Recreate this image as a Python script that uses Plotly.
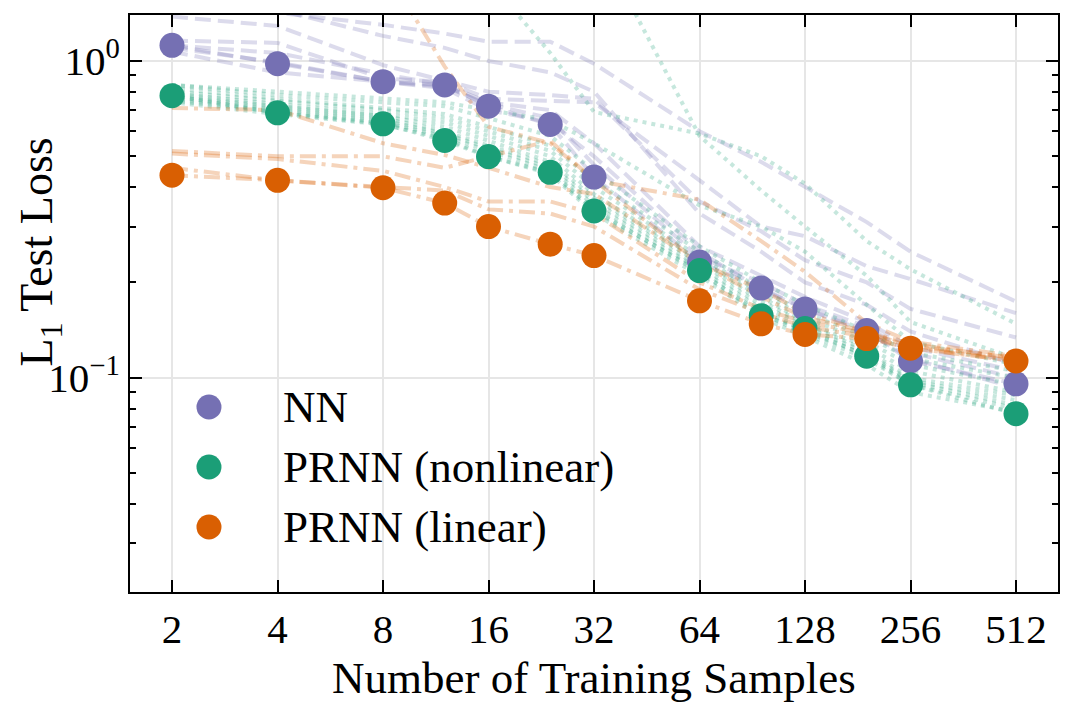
import plotly.graph_objects as go

# ---------------- data ----------------
n_samples = [2, 4, 8, 12, 16, 24, 32, 64, 96, 128, 192, 256, 512]
x_tick_vals = [2, 4, 8, 16, 32, 64, 128, 256, 512]
x_tick_text = ["2", "4", "8", "16", "32", "64", "128", "256", "512"]
y_tick_vals = [0.1, 1.0]
y_tick_text = ["10<sup>−1</sup>", "10<sup>0</sup>"]
y_minor_vals = [0.03, 0.04, 0.05, 0.06, 0.07, 0.08, 0.09,
                0.2, 0.3, 0.4, 0.5, 0.6, 0.7, 0.8, 0.9]

# highlighted (marker) results
nn_best = [1.12, 0.98, 0.86, 0.84, 0.72, 0.63, 0.43, 0.232, 0.192, 0.165, 0.141, 0.113, 0.0957]
prnn_nl_best = [0.777, 0.686, 0.633, 0.561, 0.499, 0.445, 0.336, 0.218, 0.157, 0.143, 0.117, 0.095, 0.077]
prnn_lin_best = [0.436, 0.420, 0.398, 0.356, 0.300, 0.264, 0.243, 0.175, 0.148, 0.137, 0.133, 0.124, 0.113]

# individual runs (faint lines)
nn_runs = [
    [1.50, 1.42, 1.30, 1.22, 1.15, 1.15, 0.98, 0.60, 0.48, 0.40, 0.31, 0.25, 0.174],
    [1.38, 1.29, 0.97, 0.87, 0.80, 0.78, 0.76, 0.36, 0.29, 0.235, 0.20, 0.165, 0.134],
    [1.16, 1.14, 0.88, 0.86, 0.76, 0.75, 0.74, 0.42, 0.30, 0.28, 0.225, 0.205, 0.160],
    [1.12, 1.06, 0.91, 0.84, 0.74, 0.70, 0.55, 0.26, 0.21, 0.18, 0.150, 0.125, 0.105],
    [1.10, 0.99, 0.86, 0.83, 0.73, 0.66, 0.47, 0.24, 0.20, 0.17, 0.145, 0.120, 0.100],
    [1.07, 0.92, 0.86, 0.82, 0.70, 0.64, 0.50, 0.25, 0.19, 0.165, 0.140, 0.115, 0.093],
    [1.60, 1.45, 1.20, 1.10, 1.00, 0.92, 0.80, 0.33, 0.25, 0.20, 0.170, 0.140, 0.110],
    nn_best,
]
prnn_nl_runs = [
    [0.84, 0.78, 0.74, 0.72, 0.66, 0.58, 0.45, 0.26, 0.20, 0.17, 0.140, 0.120, 0.105],
    [0.82, 0.76, 0.71, 0.68, 0.62, 0.54, 0.42, 0.25, 0.19, 0.16, 0.135, 0.115, 0.100],
    [0.80, 0.75, 0.70, 0.66, 0.60, 0.52, 0.40, 0.24, 0.185, 0.155, 0.130, 0.110, 0.095],
    [0.79, 0.73, 0.68, 0.64, 0.58, 0.50, 0.38, 0.235, 0.18, 0.150, 0.125, 0.105, 0.090],
    [0.78, 0.72, 0.67, 0.62, 0.56, 0.48, 0.37, 0.23, 0.175, 0.148, 0.122, 0.100, 0.088],
    [0.77, 0.71, 0.66, 0.60, 0.54, 0.47, 0.36, 0.225, 0.17, 0.145, 0.120, 0.098, 0.085],
    [0.76, 0.70, 0.65, 0.59, 0.53, 0.46, 0.35, 0.22, 0.165, 0.140, 0.118, 0.097, 0.082],
    [0.75, 0.69, 0.64, 0.58, 0.52, 0.45, 0.34, 0.215, 0.16, 0.138, 0.115, 0.095, 0.080],
    [0.74, 0.68, 0.63, 0.57, 0.50, 0.44, 0.33, 0.21, 0.155, 0.135, 0.110, 0.090, 0.078],
    [2.50, 2.40, 2.30, 2.20, 2.10, 2.00, 2.50, 0.58, 0.39, 0.30, 0.210, 0.150, 0.115],
    [2.60, 2.40, 2.20, 2.00, 1.80, 1.06, 0.69, 0.59, 0.50, 0.41, 0.270, 0.220, 0.148],
    [0.84, 0.80, 0.76, 0.74, 0.70, 0.65, 0.55, 0.35, 0.30, 0.25, 0.170, 0.130, 0.110],
    prnn_nl_best,
]
prnn_lin_runs = [
    [0.71, 0.70, 0.55, 0.505, 0.46, 0.40, 0.38, 0.23, 0.19, 0.16, 0.140, 0.128, 0.115],
    [0.52, 0.50, 0.50, 0.46, 0.50, 0.56, 0.42, 0.23, 0.18, 0.155, 0.140, 0.125, 0.114],
    [0.51, 0.49, 0.45, 0.40, 0.36, 0.36, 0.33, 0.20, 0.165, 0.150, 0.138, 0.126, 0.116],
    [0.46, 0.42, 0.40, 0.39, 0.34, 0.33, 0.30, 0.19, 0.16, 0.145, 0.135, 0.124, 0.113],
    [2.60, 2.30, 2.00, 0.96, 0.62, 0.55, 0.42, 0.365, 0.27, 0.216, 0.149, 0.130, 0.117],
    prnn_lin_best,
]

series_names = ["NN", "PRNN (nonlinear)", "PRNN (linear)"]
colors = ["#7570b3", "#1b9e77", "#d95f02"]
faint = ["rgba(117,112,179,0.25)", "rgba(27,158,119,0.25)", "rgba(217,95,2,0.27)"]
dashes = ["16px,7px", "4px,5px", "16px,6px,4px,6px"]

FONT = "Liberation Serif"

fig = go.Figure()

for runs, fc, dsh in zip([nn_runs, prnn_nl_runs, prnn_lin_runs], faint, dashes):
    for r in runs:
        fig.add_trace(go.Scatter(x=n_samples, y=r, mode="lines",
                                 line=dict(color=fc, width=4, dash=dsh),
                                 showlegend=False, hoverinfo="skip"))

for best, c, name in zip([nn_best, prnn_nl_best, prnn_lin_best], colors, series_names):
    fig.add_trace(go.Scatter(x=n_samples, y=best, mode="markers", name=name,
                             marker=dict(color=c, size=25, line=dict(width=0)),
                             showlegend=False))

# custom legend (large markers)
leg_y = [0.3206, 0.2166, 0.1127]
for c, name, ly in zip(colors, series_names, leg_y):
    fig.add_shape(type="circle", xref="paper", yref="paper",
                  xsizemode="pixel", ysizemode="pixel",
                  xanchor=0.0851, yanchor=ly, x0=-12.5, x1=12.5, y0=-12.5, y1=12.5,
                  fillcolor=c, line=dict(width=0))
    fig.add_annotation(text=name, xref="paper", yref="paper", x=0.1627, y=ly,
                       xanchor="left", yanchor="middle", showarrow=False,
                       font=dict(family=FONT, size=45, color="black"))

fig.add_annotation(text="Number of Training Samples", xref="paper", yref="paper",
                   x=0.5, y=-0.149, xanchor="center", yanchor="middle", showarrow=False,
                   font=dict(family=FONT, size=45, color="black"))
fig.add_annotation(text="L<sub>1</sub> Test Loss", xref="paper", yref="paper",
                   x=-0.097, y=0.59, xanchor="center", yanchor="middle", showarrow=False,
                   textangle=-90, font=dict(family=FONT, size=46, color="black"))

fig.update_layout(
    width=1075, height=713,
    margin=dict(l=130, r=17, t=15, b=121),
    paper_bgcolor="white", plot_bgcolor="white",
    font=dict(family=FONT, size=40, color="black"),
    showlegend=False,
)
fig.update_xaxes(type="log", range=[0.1812, 2.8291],
                 tickvals=x_tick_vals, ticktext=x_tick_text,
                 ticks="inside", ticklen=12, tickwidth=2, tickcolor="black",
                 showline=True, linecolor="black", linewidth=2, mirror="ticks",
                 showgrid=True, gridcolor="#e6e6e6", gridwidth=2, zeroline=False,
                 tickfont=dict(family=FONT, size=41))
fig.update_yaxes(type="log", range=[-1.676, 0.145],
                 tickvals=y_tick_vals, ticktext=y_tick_text,
                 ticks="inside", ticklen=12, tickwidth=2, tickcolor="black",
                 showline=True, linecolor="black", linewidth=2, mirror="ticks",
                 showgrid=True, gridcolor="#e6e6e6", gridwidth=2, zeroline=False,
                 tickfont=dict(family=FONT, size=41),
                 minor=dict(tickvals=y_minor_vals, ticks="inside", ticklen=6,
                            tickwidth=2, tickcolor="black", showgrid=False))

fig.write_html("out.html")
